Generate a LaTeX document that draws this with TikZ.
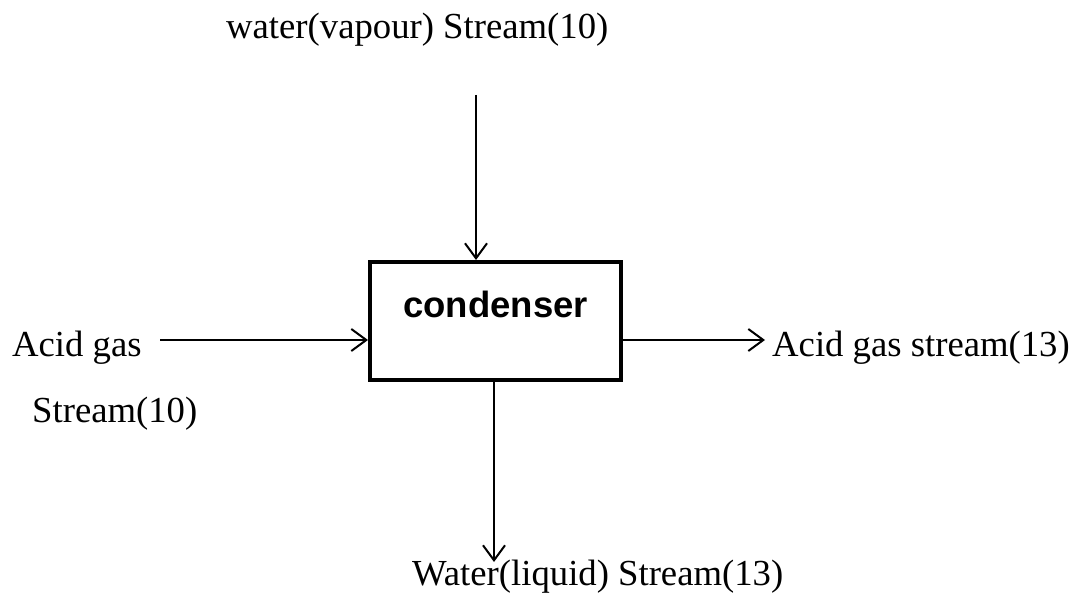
\documentclass[tikz,border=0pt]{standalone}
\usepackage{fontspec}
\setmainfont{Liberation Serif}
\newfontfamily\labelsans{Liberation Sans}
\usetikzlibrary{arrows.meta}

\begin{document}
\begin{tikzpicture}[x=1pt,y=-1pt,
  unitbox/.style={draw=black,line width=4pt,minimum width=251pt,minimum height=118pt,inner sep=0pt},
  flow/.style={line width=2pt,-{Straight Barb[length=15pt,width=22pt,line width=2pt]}},
  streamlabel/.style={anchor=base west,inner sep=0pt,font=\fontsize{36.7}{40}\selectfont}]
\useasboundingbox (0,0) rectangle (1076,593);

% process unit
\node[unitbox] (cond) at (495.5,321) {};
\node[anchor=base,inner sep=0pt,font=\labelsans\bfseries\fontsize{36.5}{40}\selectfont] (condtxt) at (495.5,318) {condenser};

% stream labels
\node[streamlabel] (vap) at (226,39) {water(vapour) Stream(10)};
\node[streamlabel] (acidin) at (12,356) {Acid gas};
\node[streamlabel] (acidinb) at (32,422) {Stream(10)};
\node[streamlabel] (acidout) at (772,356) {Acid gas stream(13)};
\node[streamlabel] (liq) at (412,585) {Water(liquid) Stream(13)};

% free ends of the connectors
\coordinate (vapend) at (476,95);
\coordinate (acidend) at (160,340);
\coordinate (outend) at (765,340);
\coordinate (liqend) at (494,562);

% connectors
\draw[flow] (vapend) -- (vapend |- cond.north);
\draw[flow] (acidend) -- (acidend -| cond.west);
\draw[flow] (cond.east |- outend) -- (outend);
\draw[flow] (cond.south -| liqend) -- (liqend);
\end{tikzpicture}
\end{document}
